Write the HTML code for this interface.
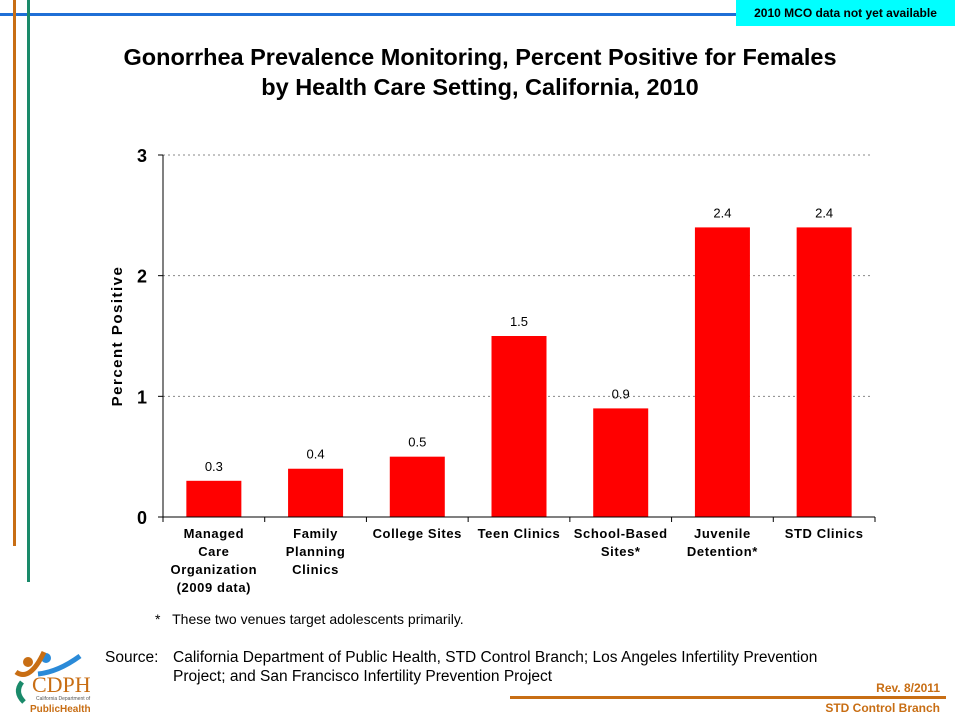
<!DOCTYPE html>
<html><head><meta charset="utf-8"><style>
body{margin:0;width:960px;height:720px;overflow:hidden;background:#fff;font-family:"Liberation Sans",Arial,sans-serif;position:relative}
.abs{position:absolute}
</style></head><body>
<div class="abs" style="left:0;top:13px;width:736px;height:3px;background:#1f6fd6"></div>
<div class="abs" style="left:13px;top:0;width:3px;height:546px;background:#c86e14"></div>
<div class="abs" style="left:27px;top:0;width:3px;height:582px;background:#1a8a6a"></div>
<div class="abs" style="left:736px;top:0;width:219px;height:26px;background:#00ffff;font-size:12px;font-weight:bold;line-height:26px;text-align:center">2010 MCO data not yet available</div>
<div class="abs" style="left:60px;top:42px;width:840px;text-align:center;font-size:23.5px;font-weight:bold;line-height:30px">Gonorrhea Prevalence Monitoring, Percent Positive for Females<br>by Health Care Setting, California, 2010</div>
<svg class="abs" style="left:0;top:0" width="960" height="720" id="chart"></svg>
<div class="abs" style="left:155px;top:611px;font-size:14px">*&nbsp;&nbsp;&nbsp;These two venues target adolescents primarily.</div>
<div class="abs" style="left:105px;top:648px;font-size:15.5px;line-height:19px;display:flex"><span style="width:68px">Source:</span><span style="width:760px">California Department of Public Health, STD Control Branch; Los Angeles Infertility Prevention<br>Project; and San Francisco Infertility Prevention Project</span></div>
<div class="abs" style="left:8px;top:632px;width:90px;height:86px">
<svg width="90" height="86"><circle cx="20" cy="30" r="5" fill="#c86e14"/><circle cx="38" cy="26" r="5" fill="#2a8ad8"/><path d="M8 40 Q22 50 36 20" stroke="#c86e14" stroke-width="5" fill="none"/><path d="M30 42 Q50 40 72 24" stroke="#2a8ad8" stroke-width="5" fill="none"/><path d="M14 50 Q6 60 16 70" stroke="#1a8a6a" stroke-width="5" fill="none"/><text x="24" y="60" font-family="Liberation Serif,serif" font-size="22" fill="#c86e14">CDPH</text><text x="28" y="68" font-size="5" fill="#555">California Department of</text><text x="22" y="80" font-size="10" font-weight="bold" fill="#c86e14">PublicHealth</text></svg></div>
<div class="abs" style="left:860px;top:681px;font-size:12px;font-weight:bold;color:#c86e14;width:80px;text-align:right">Rev. 8/2011</div>
<div class="abs" style="left:510px;top:696px;width:436px;height:3px;background:#c86e14"></div>
<div class="abs" style="left:780px;top:701px;font-size:12px;font-weight:bold;color:#c86e14;width:160px;text-align:right">STD Control Branch</div>
<script>
const categories=[["Managed","Care","Organization","(2009 data)"],["Family","Planning","Clinics"],["College Sites"],["Teen Clinics"],["School-Based","Sites*"],["Juvenile","Detention*"],["STD Clinics"]];
const values=[0.3,0.4,0.5,1.5,0.9,2.4,2.4];
const valueLabels=["0.3","0.4","0.5","1.5","0.9","2.4","2.4"];
const yTicks=[0,1,2,3];
const svg=document.getElementById('chart');
const NS='http://www.w3.org/2000/svg';
const x0=163,x1=875,yBase=517,yTop=155,yMax=3;
const cw=(x1-x0)/categories.length;
function y(v){return yBase-(v/yMax)*(yBase-yTop);}
function xc(i){return x0+cw*(i+0.5);}
function mk(t,a,txt){const e=document.createElementNS(NS,t);for(const k in a)e.setAttribute(k,a[k]);if(txt!=null)e.textContent=txt;svg.appendChild(e);return e;}
yTicks.forEach(t=>{
  if(t>0){const g=mk('line',{x1:x0,x2:870,y1:y(t),y2:y(t),stroke:'#888','stroke-dasharray':'2,3','stroke-width':1});
  
  }
  const tk=mk('line',{x1:x0-5,x2:x0,y1:y(t),y2:y(t),stroke:'#000'});
  
  
  const lb=mk('text',{x:x0-16,y:y(t)+7,'text-anchor':'end','font-size':18,'font-weight':'bold','font-family':'Liberation Sans,sans-serif'},String(t));
  
  
});
values.forEach((v,i)=>{
  const b=mk('rect',{x:xc(i)-27.5,y:y(v),width:55,height:yBase-y(v),fill:'#ff0000'});
  
  
  const l=mk('text',{x:xc(i),y:y(v)-10,'text-anchor':'middle','font-size':13,'font-family':'Liberation Sans,sans-serif'},valueLabels[i]);
  
  
  categories[i].forEach((ln,j)=>{
    const c=mk('text',{x:xc(i),y:538+j*18,'text-anchor':'middle','font-size':13,'font-weight':'bold','letter-spacing':'0.6','font-family':'Liberation Sans,sans-serif'},ln);
    
    
  });
});
for(let i=0;i<=categories.length;i++){
  const t=mk('line',{x1:x0+cw*i,x2:x0+cw*i,y1:yBase,y2:yBase+5,stroke:'#000'});
  
  
}
const ya=mk('line',{x1:x0,x2:x0,y1:yTop,y2:yBase,stroke:'#000'});


const xa=mk('line',{x1:x0,x2:x1,y1:yBase,y2:yBase,stroke:'#000'});


const yt=mk('text',{x:0,y:0,transform:'translate(122,336) rotate(-90)','text-anchor':'middle','font-size':15,'font-weight':'bold','letter-spacing':'1.5','font-family':'Liberation Sans,sans-serif'},'Percent Positive');


</script>
</body></html>
